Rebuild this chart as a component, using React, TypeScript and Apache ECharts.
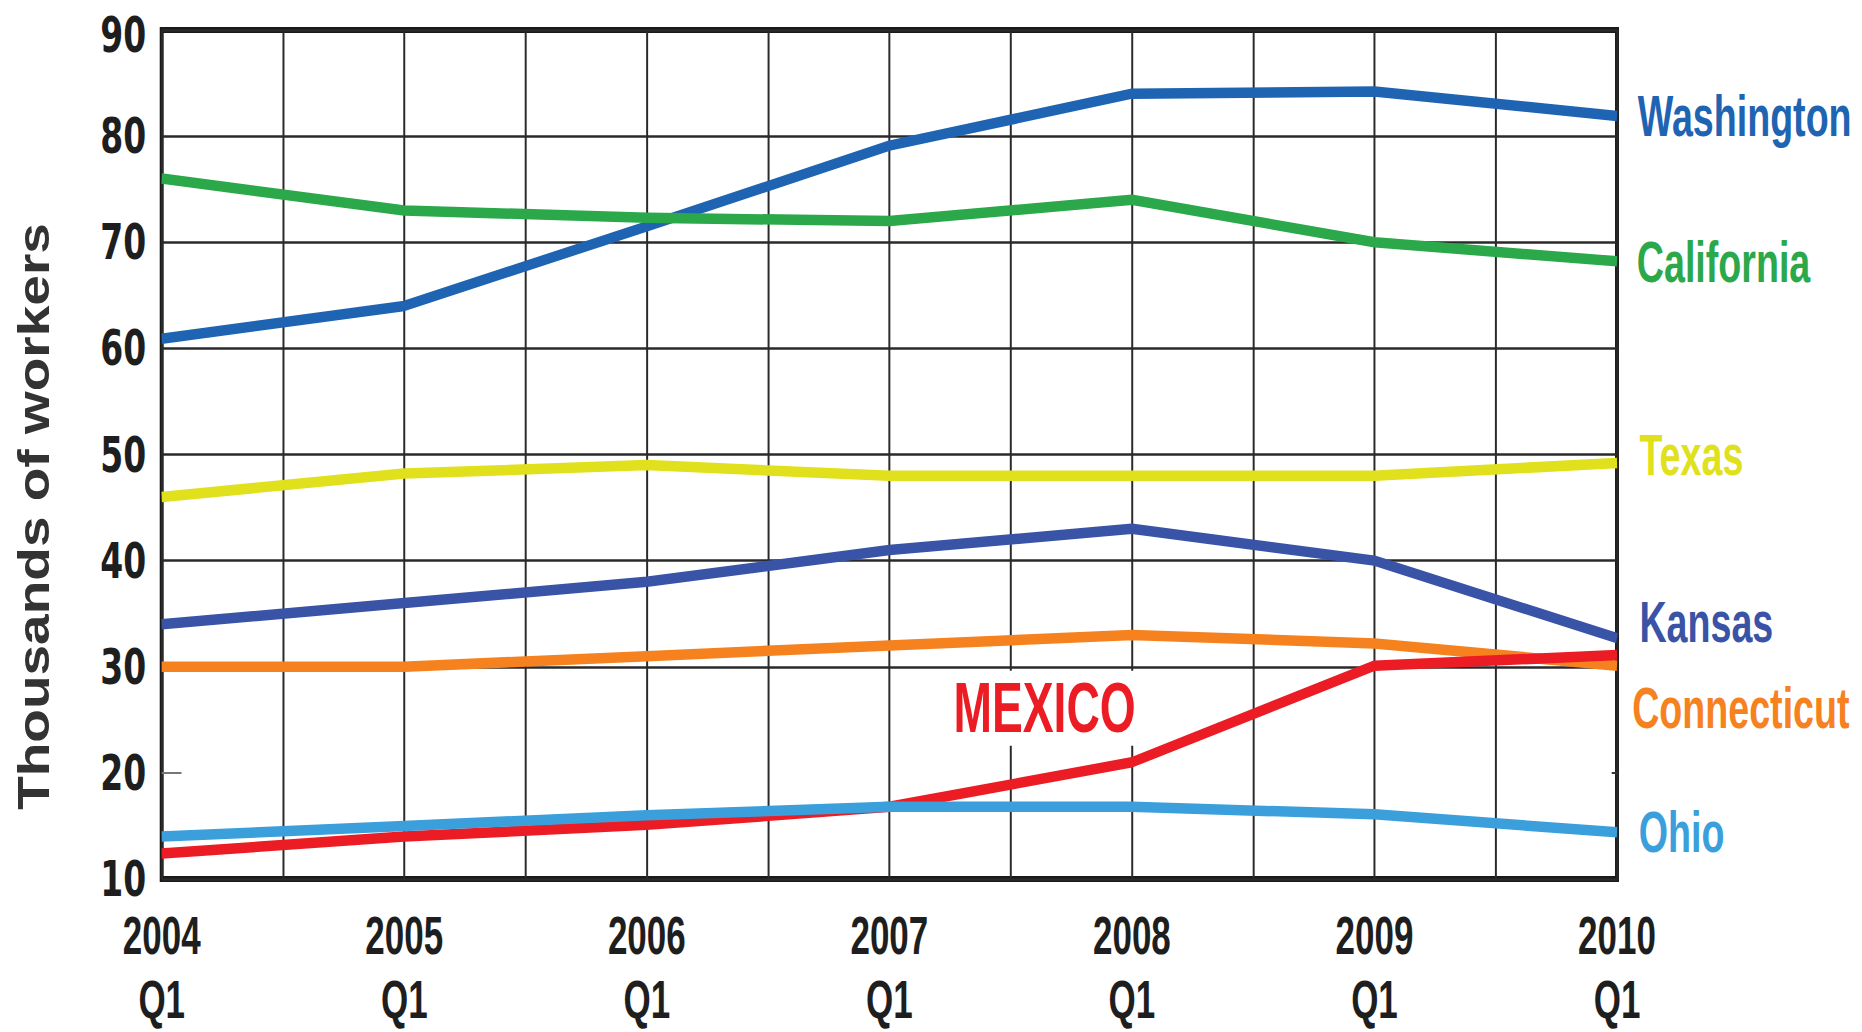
import React, { useEffect, useRef } from "react";
import * as echarts from "echarts";

// ---------- data ----------
const years = [2004, 2005, 2006, 2007, 2008, 2009, 2010];
const washington = [60.9, 64, 71.5, 79.1, 84, 84.2, 81.9];
const california = [76, 73, 72.3, 72, 74, 70, 68.2];
const texas = [46, 48.2, 49, 48, 48, 48, 49.2];
const kansas = [34, 36, 38, 41, 43, 40, 32.7];
const connecticut = [30, 30, 31, 32, 33, 32.2, 30.1];
const mexico = [12.4, 14, 15.1, 16.8, 21, 30.1, 31.1];
const ohio = [14, 15, 16, 16.8, 16.8, 16.1, 14.4];
const yTicks = [10, 20, 30, 40, 50, 60, 70, 80, 90];
const hiddenGridValues = [20];
const quarterLabel = "Q1";
const yAxisTitle = "Thousands of workers";
const mexicoNote = { text: "MEXICO", year: 2007.64, value: 26.1 };

// ---------- styles ----------
const SX = 0.66; // the reference is horizontally compressed
const W = 2821;
const H = 1032;
const REG = '"Liberation Sans", Arial, Helvetica, sans-serif';
const WIDE = '"DejaVu Sans", "Liberation Sans", sans-serif';
const INK = "#1e1e1e";

const seriesDefs = [
  { name: "Washington", data: washington, color: "#1e64b2", off: [31.5, 0] },
  { name: "California", data: california, color: "#2aa84a", off: [30, 0.5] },
  { name: "Texas", data: texas, color: "#e0e01c", off: [34, -8.5] },
  { name: "Kansas", data: kansas, color: "#3953a6", off: [34, -16.5] },
  { name: "Connecticut", data: connecticut, color: "#f5821f", off: [23, 42] },
  { name: "MEXICO", data: mexico, color: "#ec1c24", off: null },
  { name: "Ohio", data: ohio, color: "#3a9fdb", off: [33, 0] },
];

export default function App() {
  const ref = useRef<HTMLDivElement>(null);
  useEffect(() => {
    if (!ref.current) return;
    document.body.style.background = "#fff";
    const chart = echarts.init(ref.current, null, { renderer: "svg" });
    const gridValues = yTicks.filter((v) => !hiddenGridValues.includes(v));
    const topTick = yTicks[yTicks.length - 1];
    const yLabelStyle = {
      fontFamily: WIDE,
      fontWeight: "bold",
      fontSize: 50,
      color: INK,
    };

    const series: any[] = [
      {
        name: "gridlines",
        type: "line",
        data: [],
        silent: true,
        markLine: {
          silent: true,
          z: 1,
          symbol: "none",
          label: { show: false },
          lineStyle: { color: "#2a2a2a", width: 2.5, type: "solid" },
          emphasis: { disabled: true },
          data: gridValues.map((v) => ({ yAxis: v })),
        },
      },
    ];

    seriesDefs.forEach((s) => {
      const base: any = {
        name: s.name,
        type: "line",
        data: years.map((y, i) => [y, s.data[i]]),
        symbol: "none",
        lineStyle: { color: s.color, width: 10.5, join: "round" },
        itemStyle: { color: s.color },
      };
      if (s.off) {
        base.endLabel = {
          show: true,
          formatter: s.name,
          color: s.color,
          fontFamily: REG,
          fontWeight: "bold",
          fontSize: 57,
          distance: 0,
          offset: s.off,
          align: "left",
          verticalAlign: "middle",
        };
      } else {
        base.markPoint = {
          silent: true,
          symbol: "rect",
          symbolSize: 1,
          itemStyle: { color: "rgba(0,0,0,0)" },
          label: {
            show: true,
            position: "inside",
            formatter: mexicoNote.text,
            color: s.color,
            fontFamily: REG,
            fontWeight: "bold",
            fontSize: 70,
            lineHeight: 70,
            backgroundColor: "#ffffff",
            padding: [2.5, 6, 2.5, 6],
          },
          data: [{ coord: [mexicoNote.year, mexicoNote.value] }],
        };
      }
      series.push(base);
    });

    const option: any = {
      animation: false,
      backgroundColor: "#ffffff",
      grid: {
        left: 245,
        right: 371,
        top: 23,
        bottom: 148.5,
        show: true,
        borderColor: "#1a1a1a",
        borderWidth: 6,
        backgroundColor: "transparent",
      },
      xAxis: {
        type: "value",
        min: 2004,
        max: 2010,
        interval: 0.5,
        axisLine: { show: false },
        axisTick: { show: false },
        splitLine: { show: true, lineStyle: { color: "#2a2a2a", width: 3 } },
        axisLabel: {
          formatter: (v: number) => (Number.isInteger(v) ? `${v}\n${quarterLabel}` : ""),
          fontFamily: REG,
          fontWeight: "bold",
          fontSize: 53,
          lineHeight: 64,
          color: INK,
          margin: 25,
        },
      },
      yAxis: [
        {
          type: "value",
          min: 10,
          max: 90,
          interval: 10,
          position: "left",
          axisLine: { show: false },
          axisTick: {
            show: true,
            inside: true,
            length: 30,
            customValues: hiddenGridValues,
            lineStyle: { color: "#777", width: 2 },
          },
          axisLabel: {
            ...yLabelStyle,
            margin: 23.5,
            formatter: (v: number) => (v === topTick ? `{top|${v}}` : `${v}`),
            rich: {
              top: { ...yLabelStyle, lineHeight: 50, padding: [10, 0, 0, 0] },
            },
          },
          splitLine: { show: false },
        },
        {
          type: "value",
          min: 10,
          max: 90,
          interval: 10,
          position: "right",
          axisLine: { show: false },
          axisTick: {
            show: true,
            inside: true,
            length: 8,
            customValues: hiddenGridValues,
            lineStyle: { color: "#333", width: 2 },
          },
          axisLabel: { show: false },
          splitLine: { show: false },
        },
      ],
      graphic: [
        {
          type: "text",
          x: 52,
          y: 516.5,
          rotation: Math.PI / 2,
          scaleY: 1.2,
          style: {
            text: yAxisTitle,
            fill: "#333333",
            font: `bold 55px ${REG}`,
            align: "center",
            verticalAlign: "middle",
          },
        },
      ],
      series,
    };
    chart.setOption(option);
    return () => chart.dispose();
  }, []);

  return (
    <div
      ref={ref}
      style={{
        position: "fixed",
        left: 0,
        top: 0,
        width: W + "px",
        height: H + "px",
        transform: `scaleX(${SX})`,
        transformOrigin: "0 0",
        background: "#fff",
      }}
    />
  );
}
